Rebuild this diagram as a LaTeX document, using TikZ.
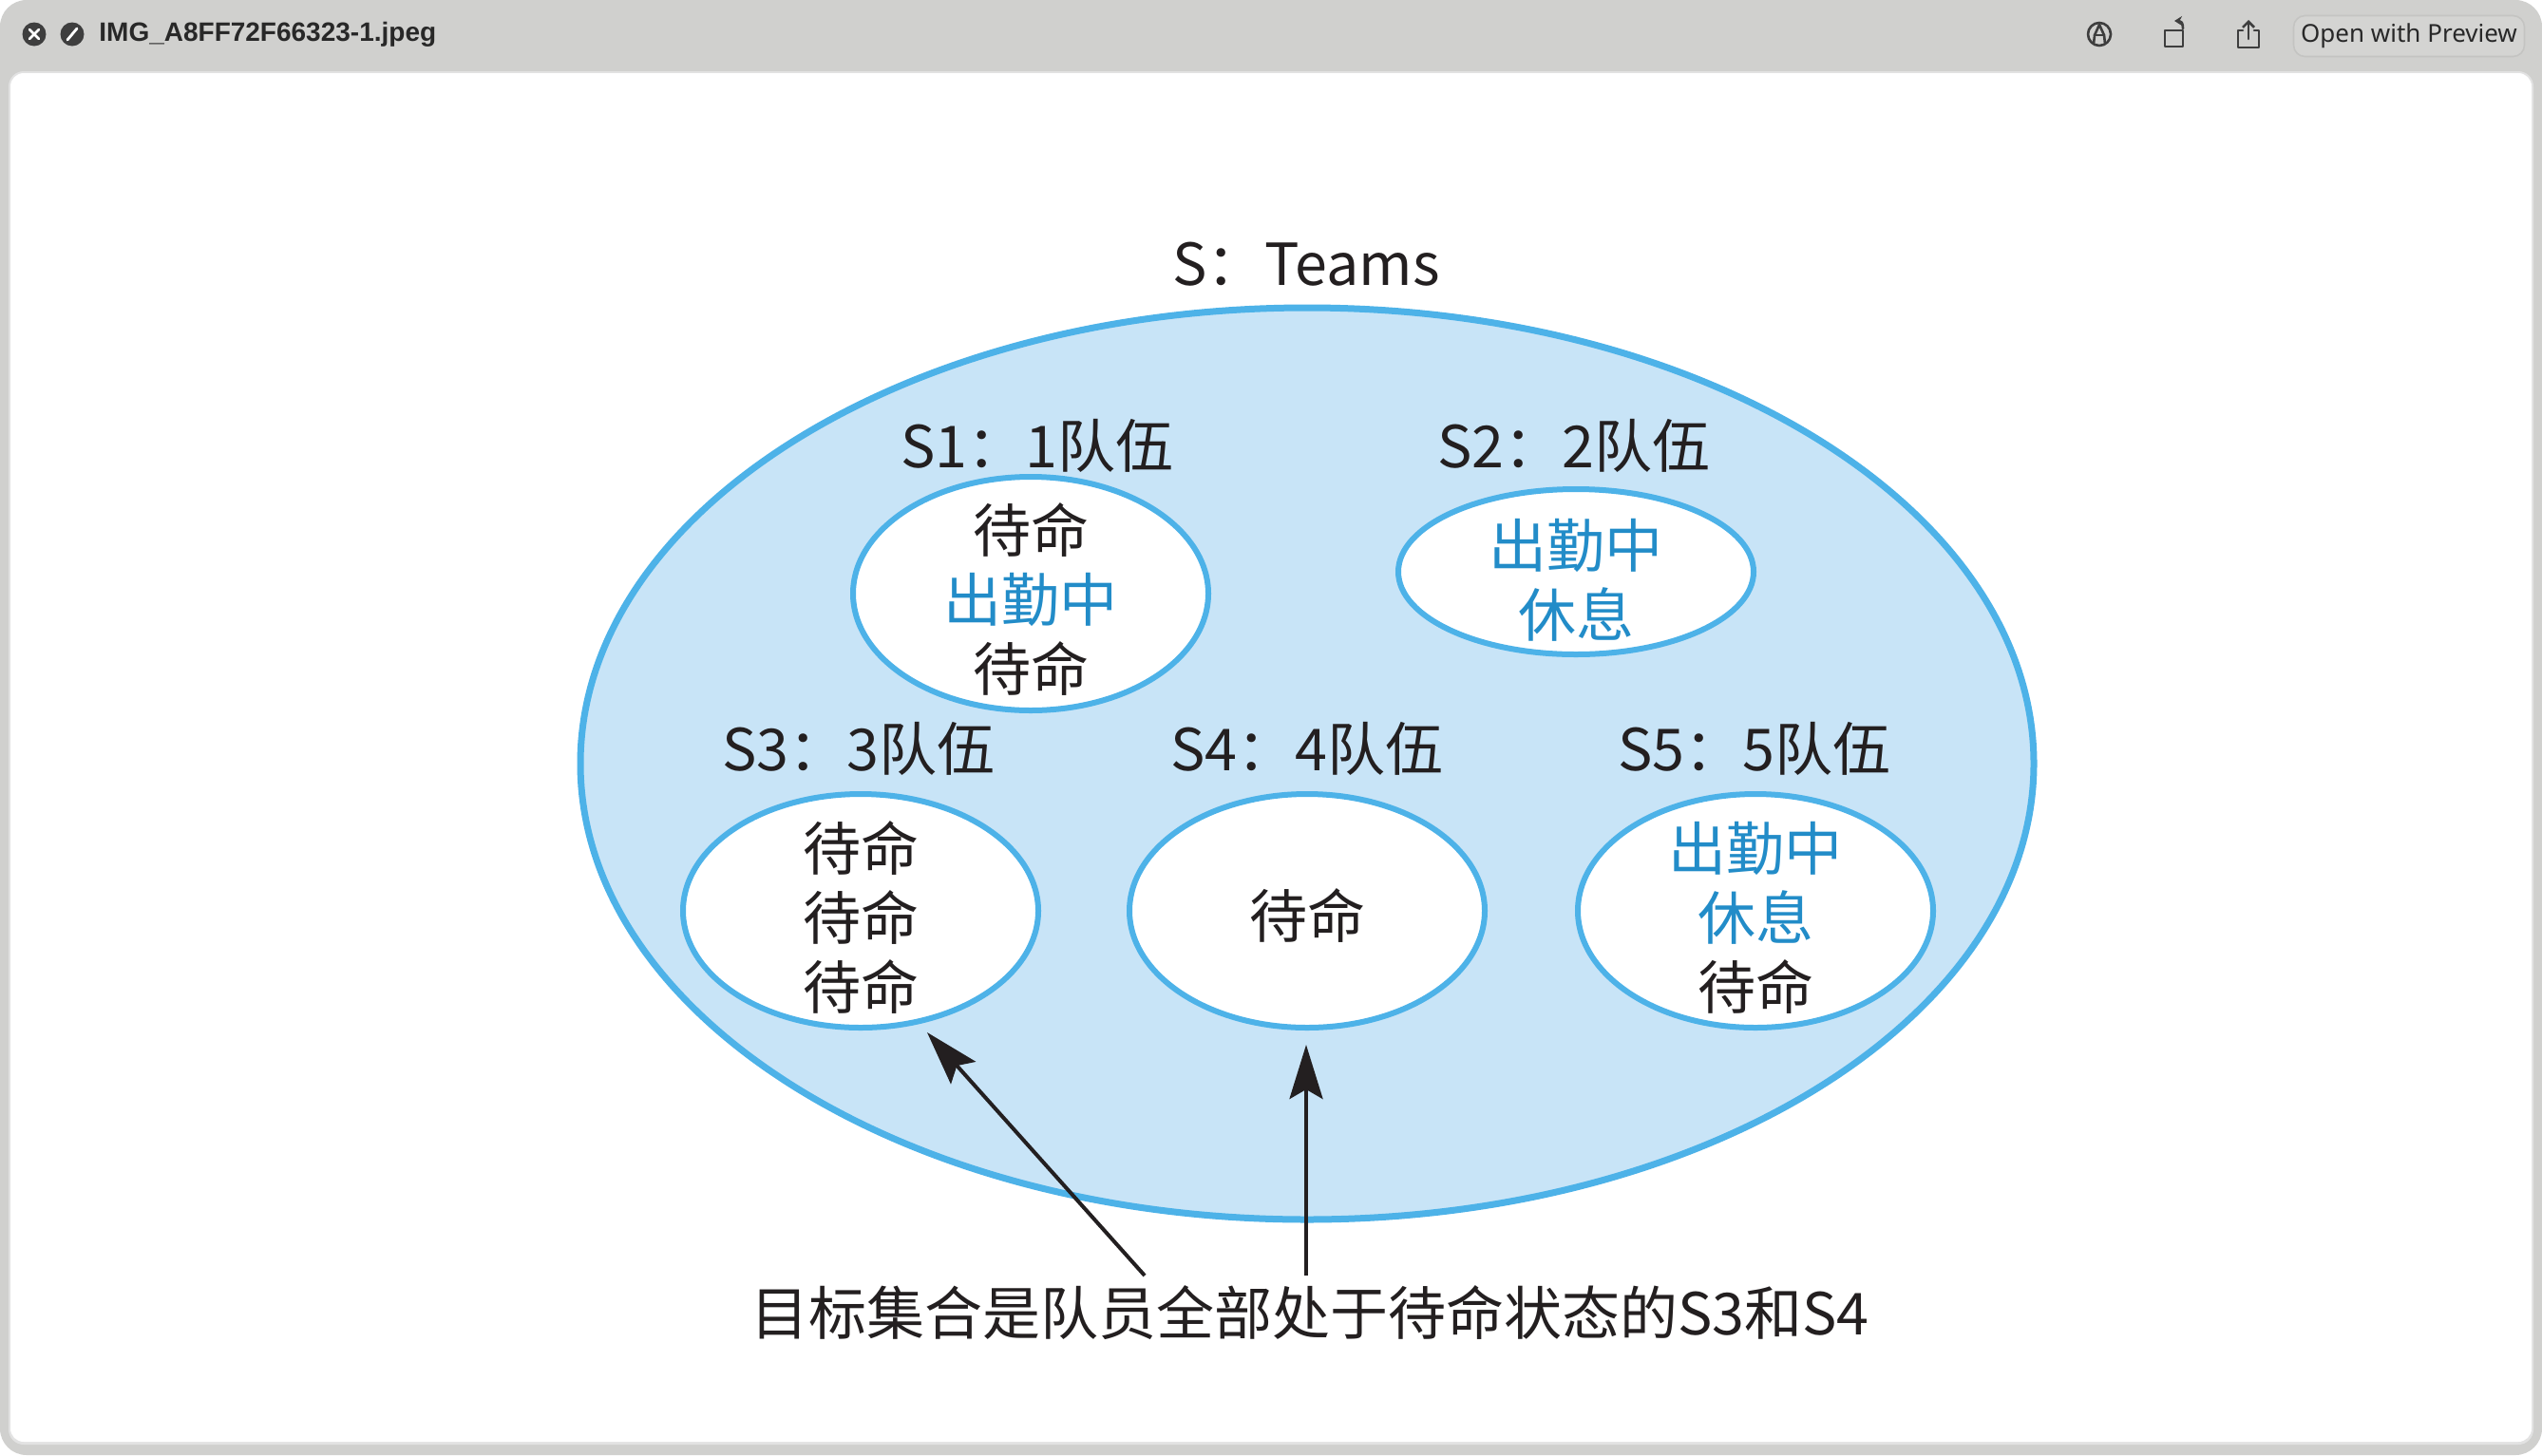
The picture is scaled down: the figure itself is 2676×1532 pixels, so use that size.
\documentclass[tikz,border=0pt]{standalone}
\usepackage{fontspec}
\setmainfont{Noto Sans CJK SC}
\newfontfamily\uifont{Noto Sans}
\newfontfamily\uibold{Liberation Sans}
\usetikzlibrary{arrows.meta,shapes.geometric}
\definecolor{wingray}{RGB}{208,208,206}
\definecolor{inborder}{RGB}{226,226,226}
\definecolor{icondark}{RGB}{62,62,62}
\definecolor{titletext}{RGB}{40,40,40}
\definecolor{btnborder}{RGB}{196,196,194}
\definecolor{btnfill}{RGB}{212,212,210}
\definecolor{setblue}{RGB}{77,178,232}
\definecolor{setfill}{RGB}{200,228,247}
\definecolor{tblue}{RGB}{34,140,200}
\definecolor{txt}{RGB}{35,31,32}
\begin{document}
\begin{tikzpicture}[x=0.5pt,y=-0.5pt,
  cjk/.style={font=\fontsize{30.5}{36.5}\selectfont, text=txt, inner sep=0pt, align=center},
  bigset/.style={ellipse, draw=setblue, fill=setfill, line width=3.5pt, inner sep=0pt},
  subset/.style={ellipse, draw=setblue, fill=white, line width=3pt, inner sep=0pt, minimum width=187pt, minimum height=123pt},
  pointer/.style={draw=txt, line width=2pt, -{Stealth[length=28.5pt,width=17.5pt,inset=5pt]}},
  uiicon/.style={draw=icondark, line width=1.3pt, line cap=round, line join=round}]
\useasboundingbox (0,0) rectangle (2676,1532);
% window frame
\fill[white] (0,0) rectangle (2676,1532);
\fill[wingray, rounded corners=14pt] (0,0) rectangle (2676,1532);
\fill[inborder, rounded corners=8pt] (9,75) rectangle (2667,1521);
\fill[white, rounded corners=7pt] (11,77) rectangle (2665,1518);
% title bar left
\node[circle, fill=icondark, minimum size=12.5pt, inner sep=0pt] (closeic) at (36,36) {};
\draw[white, line width=1.4pt, line cap=round] (31,31) -- (41,41) (31,41) -- (41,31);
\node[circle, fill=icondark, minimum size=12.5pt, inner sep=0pt] (blockic) at (76,36) {};
\draw[white, line width=1.4pt, line cap=round] (71,42) -- (81,30);
\node[anchor=west, inner sep=0pt, font=\uibold\bfseries\fontsize{14}{16}\selectfont, text=titletext] (title) at (104,36) {IMG\_A8FF72F66323-1.jpeg};
% title bar right
\draw[uiicon] (2210,36) circle (12);
\draw[uiicon] (2204,46) -- (2205,37) -- (2210,26) -- (2215,37) -- (2216,46);
\draw[uiicon] (2205,37) -- (2215,37);
\draw[uiicon] (2279,32) rectangle (2298,49);
\draw[uiicon, -{Stealth[length=4pt,width=5pt]}] (2298,30) .. controls (2298,24) and (2296,22) .. (2289,22);
\draw[uiicon] (2361,32) -- (2356,32) -- (2356,50) -- (2378,50) -- (2378,32) -- (2373,32);
\draw[uiicon, -{Straight Barb[length=3pt,width=6pt]}] (2367,41) -- (2367,21);
\node[draw=btnborder, fill=btnfill, line width=0.8pt, rounded corners=6pt, minimum width=121.5pt, minimum height=21.5pt, inner sep=0pt] (btn) at (2536,38) {};
\node[inner sep=0pt, font=\uifont\fontsize{13}{15}\selectfont, text=titletext] (btntext) at (btn.center) {Open with Preview};
% diagram
\node[cjk] (stitle) at (1375,278) {S：Teams};
\node[bigset, minimum width=765pt, minimum height=480pt] (S) at (1376,804) {};
\node[subset] (S1) at (1085,625) {};
\node[subset, minimum height=87pt] (S2) at (1659,602) {};
\node[subset] (S3) at (906,959) {};
\node[subset] (S4) at (1376,959) {};
\node[subset] (S5) at (1848,959) {};
\node[cjk] (l1) at (1092,469) {S1：1队伍};
\node[cjk] (l2) at (1657,469) {S2：2队伍};
\node[cjk] (l3) at (904,788) {S3：3队伍};
\node[cjk] (l4) at (1376,788) {S4：4队伍};
\node[cjk] (l5) at (1847,788) {S5：5队伍};
\node[cjk] (t1) at (1085,631) {待命\\{\color{tblue}出勤中}\\待命};
\node[cjk, text=tblue] (t2) at (1659,611) {出勤中\\休息};
\node[cjk] (t3) at (906,966) {待命\\待命\\待命};
\node[cjk] (t4) at (1376,964) {待命};
\node[cjk] (t5) at (1848,966) {{\color{tblue}出勤中}\\{\color{tblue}休息}\\待命};
\node[cjk] (goal) at (1379,1382) {目标集合是队员全部处于待命状态的S3和S4};
\coordinate (a1s) at (1205,1343);
\coordinate (a1e) at (976,1087);
\coordinate (a2s) at (1375,1343);
\coordinate (a2e) at (1375,1100);
\draw[pointer] (a1s) -- (a1e);
\draw[pointer] (a2s) -- (a2e);
\end{tikzpicture}
\end{document}
